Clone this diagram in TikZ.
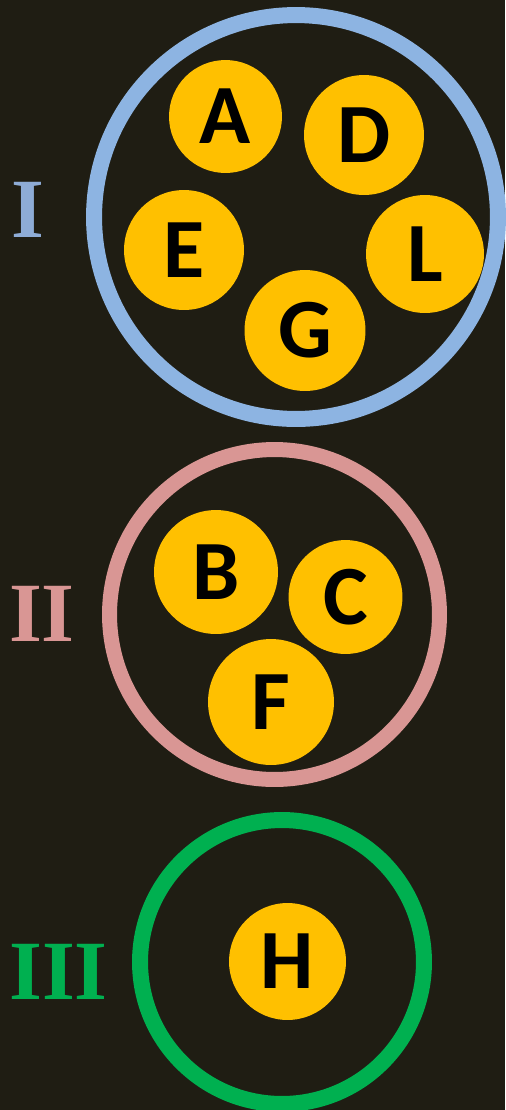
\documentclass[tikz,border=0pt]{standalone}
\usepackage{fontspec}
\setmainfont{Liberation Serif}
\newfontfamily\ballfont{Carlito}
\usepackage{tikz}
\usepackage{xcolor}

\definecolor{bgdark}{RGB}{31,29,19}
\definecolor{ringblue}{RGB}{141,180,226}
\definecolor{numblue}{RGB}{142,172,214}
\definecolor{ringpink}{RGB}{217,150,148}
\definecolor{ringgreen}{RGB}{0,176,80}
\definecolor{gold}{RGB}{255,192,0}

\tikzset{
  ball/.style={circle, fill=gold, inner sep=0pt, minimum size=#1*0.04cm,
    font=\ballfont\bfseries\fontsize{48}{48}\selectfont, text=black},
  ring/.style={circle, draw=#1, line width=0.32cm, inner sep=0pt},
  numeral/.style={font=\bfseries\fontsize{48}{48}\selectfont, text=#1}
}

\begin{document}
\begin{tikzpicture}[x=0.02cm, y=-0.02cm]
          \fill[bgdark] (0,0) rectangle (505,1110);
          \useasboundingbox (0,0) rectangle (505,1110);
          % group I
          \node[ring=ringblue, minimum size=8.08cm] (grpI) at (296,217) {};
          \node[numeral=numblue] (numI) at (28,210) {I};
          \node[ball=56.5] (A) at (225.5,116.5) {A};
          \node[ball=60] (D) at (364,135) {D};
          \node[ball=60] (E) at (184,250) {E};
          \node[ball=59] (L) at (425,254) {L};
          \node[ball=60.5] (G) at (305,330.5) {G};
          % group II
          \node[ring=ringpink, line width=0.3cm, minimum size=6.6cm] (grpII) at (274.5,614.5) {};
          \node[numeral=ringpink] (numII) at (42,614) {II};
          \node[ball=62] (B) at (216,572) {B};
          \node[ball=57] (C) at (345.5,597) {C};
          \node[ball=63] (F) at (271,702) {F};
          % group III
          \node[ring=ringgreen, minimum size=5.68cm] (grpIII) at (282,962) {};
          \node[numeral=ringgreen] (numIII) at (58.5,972) {III};
          \node[ball=58.5] (H) at (287.5,961.5) {H};
        \end{tikzpicture}
\end{document}
